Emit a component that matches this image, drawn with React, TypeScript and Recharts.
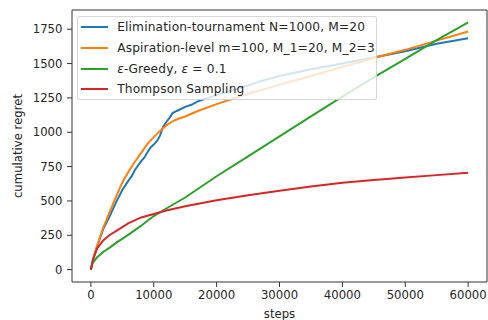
import React from 'react';
import { LineChart, Line, XAxis, YAxis, Label, ReferenceLine } from 'recharts';

const xTicks = [0, 10000, 20000, 30000, 40000, 50000, 60000];
const yTicks = [0, 250, 500, 750, 1000, 1250, 1500, 1750];
const xDomain = [-3000, 63000];
const yDomain = [-90, 1890];

const elimSteps = [0, 500, 1000, 2000, 3000, 4000, 5000, 6000, 6500, 7000, 7500, 8000, 8500, 9000, 9500, 10000, 10500, 11000, 11500, 12000, 12500, 13000, 13500, 14000, 15000, 16000, 17000, 20000, 25000, 27000, 30000, 35000, 40000, 45000, 50000, 55000, 60000];
const elimRegret = [0, 95, 170, 300, 390, 490, 580, 650, 680, 725, 758, 790, 815, 855, 890, 910, 935, 975, 1040, 1075, 1105, 1140, 1152, 1162, 1185, 1200, 1225, 1270, 1340, 1372, 1410, 1458, 1500, 1545, 1590, 1645, 1684];

const aspSteps = [0, 500, 1000, 2000, 3000, 4000, 5000, 6000, 7000, 8000, 9000, 10000, 11000, 12000, 13000, 14000, 15000, 17000, 20000, 25000, 30000, 35000, 40000, 45000, 50000, 55000, 60000];
const aspRegret = [0, 100, 175, 310, 420, 530, 635, 715, 785, 850, 915, 965, 1010, 1050, 1080, 1100, 1115, 1155, 1205, 1280, 1345, 1410, 1475, 1540, 1600, 1667, 1733];

const greedySteps = [0, 300, 1000, 2000, 3000, 4000, 6000, 8000, 10000, 12000, 15000, 20000, 25000, 30000, 35000, 40000, 45000, 50000, 55000, 60000];
const greedyRegret = [0, 50, 90, 130, 160, 195, 255, 320, 390, 445, 525, 680, 825, 970, 1115, 1260, 1400, 1535, 1670, 1800];

const thompsonSteps = [0, 300, 1000, 2000, 3000, 4000, 6000, 8000, 10000, 12000, 15000, 20000, 25000, 30000, 35000, 40000, 45000, 50000, 55000, 60000];
const thompsonRegret = [0, 70, 155, 215, 252, 280, 338, 380, 405, 430, 462, 505, 542, 575, 605, 632, 652, 670, 688, 705];

const seriesNames = [
  'Elimination-tournament N=1000, M=20',
  'Aspiration-level m=100, M_1=20, M_2=3',
  'ε-Greedy, ε = 0.1',
  'Thompson Sampling',
];
const seriesColors = ['#1f77b4', '#ff7f0e', '#2ca02c', '#d62728'];

const toRows = (steps: number[], values: number[]) => steps.map((x, i) => ({ x, y: values[i] }));

const seriesData = [
  toRows(elimSteps, elimRegret),
  toRows(aspSteps, aspRegret),
  toRows(greedySteps, greedyRegret),
  toRows(thompsonSteps, thompsonRegret),
];

const FONT = '"DejaVu Sans", sans-serif';
const FS = 11.7;
const LEGEND_FS = 12.2;
const TEXT = '#262626';
const SPINE = '#333';

const renderName = (name: string) => {
  const parts = name.split('ε');
  const out: React.ReactNode[] = [];
  parts.forEach((p, i) => {
    if (i > 0) out.push(<i key={'e' + i}>ε</i>);
    out.push(<span key={'p' + i}>{p}</span>);
  });
  return out;
};

const LegendBox = () => (
  <div
    style={{
      position: 'absolute',
      left: 77,
      top: 16,
      boxSizing: 'border-box',
      width: 300,
      height: 84,
      background: 'rgba(255,255,255,0.8)',
      border: '1px solid rgba(204,204,204,0.8)',
      borderRadius: 3,
      paddingTop: 0,
      fontFamily: FONT,
      fontSize: LEGEND_FS,
      letterSpacing: 0.15,
      color: TEXT,
    }}
  >
    {seriesNames.map((n, i) => (
      <div key={n} style={{ display: 'flex', alignItems: 'center', height: 20.7, whiteSpace: 'nowrap' }}>
        <div style={{ width: 27.6, height: 2, background: seriesColors[i], marginLeft: 2.6, marginRight: 9 }} />
        <span>{renderName(n)}</span>
      </div>
    ))}
  </div>
);

export default function App() {
  return (
    <div style={{ position: 'absolute', left: 0, top: 0, width: 488, height: 320, background: '#fff' }}>
      <LineChart width={488} height={320} margin={{ top: 10, right: 1, left: 0, bottom: 0 }}>
        <XAxis
          dataKey="x"
          type="number"
          domain={xDomain}
          ticks={xTicks}
          allowDataOverflow
          height={38}
          tickSize={5}
          tickMargin={4}
          stroke={SPINE}
          tick={{ fill: TEXT, fontSize: FS, fontFamily: FONT }}
          interval={0}
        >
          <Label
            content={() => (
              <text x={279.5} y={318} textAnchor="middle" fill={TEXT} fontSize={FS} fontFamily={FONT}>
                steps
              </text>
            )}
          />
        </XAxis>
        <YAxis
          type="number"
          domain={yDomain}
          ticks={yTicks}
          allowDataOverflow
          width={72}
          tickSize={5}
          tickMargin={4.5}
          stroke={SPINE}
          tick={{ fill: TEXT, fontSize: FS, fontFamily: FONT }}
          interval={0}
        >
          <Label
            content={() => (
              <text
                x={18}
                y={146}
                transform="rotate(-90 18 146)"
                textAnchor="middle"
                dominantBaseline="central"
                fill={TEXT}
                fontSize={FS}
                fontFamily={FONT}
              >
                cumulative regret
              </text>
            )}
          />
        </YAxis>
        {seriesData.map((d, i) => (
          <Line
            key={seriesNames[i]}
            data={d}
            dataKey="y"
            name={seriesNames[i]}
            stroke={seriesColors[i]}
            strokeWidth={2}
            dot={false}
            type="linear"
            isAnimationActive={false}
          />
        ))}
        <ReferenceLine x={xDomain[1]} stroke={SPINE} strokeWidth={1} />
        <ReferenceLine y={yDomain[1]} stroke={SPINE} strokeWidth={1} />
      </LineChart>
      <LegendBox />
    </div>
  );
}
